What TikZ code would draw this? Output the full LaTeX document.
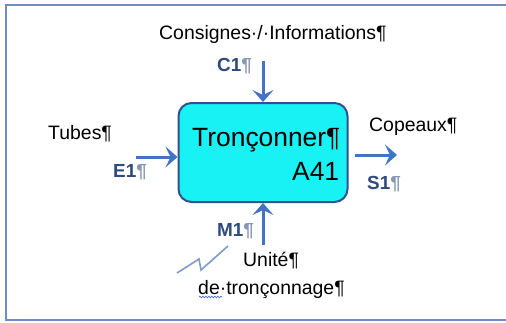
\documentclass[tikz,border=0pt]{standalone}
\usepackage{fontspec}
\setmainfont{Liberation Sans}
\usetikzlibrary{arrows.meta,decorations.pathmorphing}
\definecolor{framec}{HTML}{6F8DC2}
\definecolor{boxfill}{HTML}{19F2F5}
\definecolor{boxline}{HTML}{2F528F}
\definecolor{arr}{HTML}{4472C4}
\definecolor{lab}{HTML}{2E4B7C}
\definecolor{pil}{HTML}{8898B4}
\definecolor{zig}{HTML}{7F9CC8}
\definecolor{spell}{HTML}{4A6FD0}
\newcommand\mypil{{\color{pil}¶}}
\begin{document}
\begin{tikzpicture}[x=1bp,y=-1bp,
 txt/.style={inner sep=0pt,anchor=base west,font=\fontsize{19.5}{22}\selectfont},
 lbl/.style={inner sep=0pt,anchor=base west,font=\fontsize{19}{22}\selectfont\bfseries,text=lab},
 flow/.style={draw=arr,line width=3bp,-{Stealth[length=12bp,width=21bp,inset=5bp]}}]
\useasboundingbox (0,0) rectangle (506,322);
\draw[framec, line width=1.5bp] (6,5) rectangle (512,320);
\node[draw=boxline, line width=2bp, fill=boxfill, rounded corners=13bp,
      minimum width=169bp, minimum height=99bp, inner sep=0pt] (box) at (263,152.5) {};
\node[inner sep=0pt,anchor=base west,font=\fontsize{26.5}{30}\selectfont] (t1) at (192,146) {Tronçonner¶};
\node[inner sep=0pt,anchor=base west,font=\fontsize{26.5}{30}\selectfont] (t2) at (292,180) {A41};
% labels
\node[txt] (cons) at (159,39) {Consignes·/·Informations¶};
\node[lbl] (c1) at (217,71.5) {C1\mypil};
\node[txt] (tubes) at (48,139.5) {Tubes¶};
\node[lbl] (e1) at (113,177.5) {E1\mypil};
\node[txt] (cop) at (369,131) {Copeaux¶};
\node[lbl] (s1) at (367,189) {S1\mypil};
\node[lbl] (m1) at (217,236) {M1\mypil};
\node[txt] (unite) at (243,266.5) {Unité¶};
\node[txt] (detr) at (198,294) {de·tronçonnage¶};
% flows
\coordinate (cin) at (263,61);
\coordinate (ein) at (136,157);
\coordinate (sout) at (397,155);
\coordinate (min) at (263,245);
\draw[flow] (cin) -- (box.north);
\draw[flow] (ein) -- (ein -| box.west);
\draw[flow] (sout -| box.east) ++(6,0) coordinate (sst) (sst) -- (sout);
\draw[flow] (min) -- (box.south);
% mechanism zigzag
\draw[zig, line width=1.6bp] (177,273) -- (199,259) -- (201,270) -- (228,246);
% spelling underline
\draw[spell, line width=0.7bp, decorate, decoration={snake, amplitude=0.8bp, segment length=3bp}] (199,297) -- (222,297);
\end{tikzpicture}
\end{document}
